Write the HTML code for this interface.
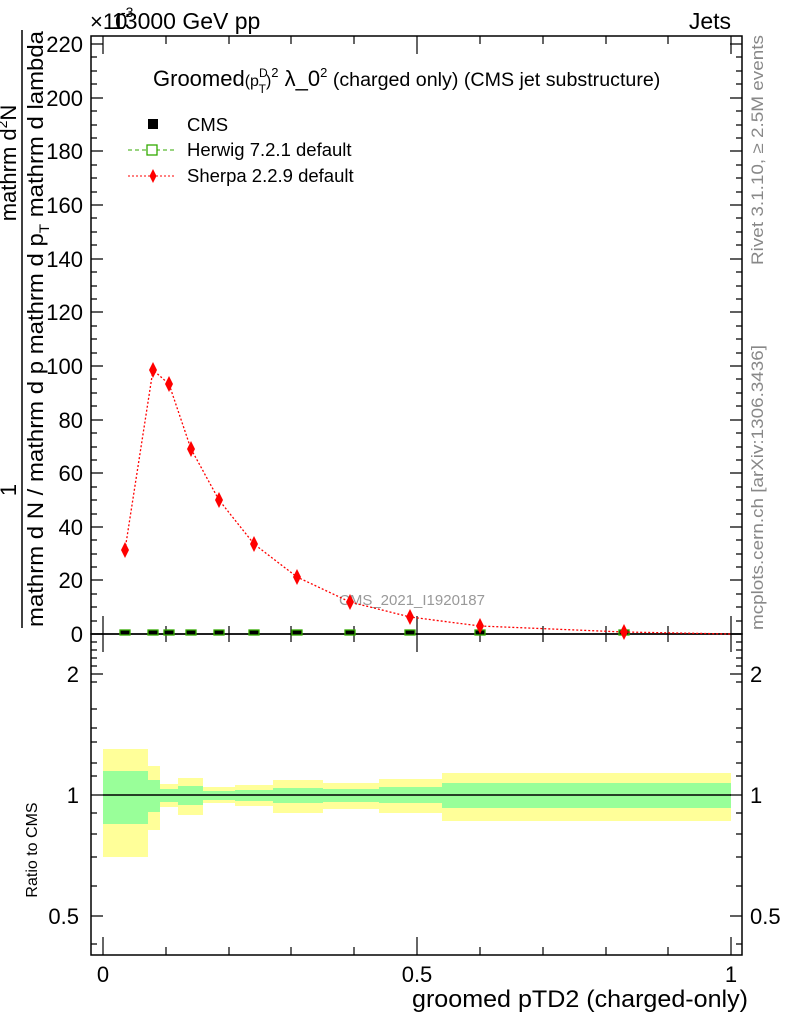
<!DOCTYPE html>
<html><head><meta charset="utf-8"><style>
html,body{margin:0;padding:0;background:#fff;}
svg{display:block;font-family:"Liberation Sans",sans-serif;}
</style></head><body>
<svg width="786" height="1024" viewBox="0 0 786 1024" xmlns="http://www.w3.org/2000/svg">
<g>
<rect x="103" y="749" width="45" height="108" fill="#ffff99"/>
<rect x="148" y="766" width="12" height="64" fill="#ffff99"/>
<rect x="160" y="784" width="18" height="23" fill="#ffff99"/>
<rect x="178" y="778" width="25" height="37" fill="#ffff99"/>
<rect x="203" y="787" width="32" height="16" fill="#ffff99"/>
<rect x="235" y="785" width="38" height="21" fill="#ffff99"/>
<rect x="273" y="780" width="50" height="33" fill="#ffff99"/>
<rect x="323" y="783" width="56" height="26" fill="#ffff99"/>
<rect x="379" y="779" width="63" height="34" fill="#ffff99"/>
<rect x="442" y="773" width="289" height="48" fill="#ffff99"/>
<rect x="103" y="771" width="45" height="53" fill="#99ff99"/>
<rect x="148" y="780" width="12" height="32" fill="#99ff99"/>
<rect x="160" y="789" width="18" height="13" fill="#99ff99"/>
<rect x="178" y="786" width="25" height="19" fill="#99ff99"/>
<rect x="203" y="791" width="32" height="9" fill="#99ff99"/>
<rect x="235" y="790" width="38" height="11" fill="#99ff99"/>
<rect x="273" y="788" width="50" height="15" fill="#99ff99"/>
<rect x="323" y="789" width="56" height="13" fill="#99ff99"/>
<rect x="379" y="787" width="63" height="16" fill="#99ff99"/>
<rect x="442" y="783" width="289" height="25" fill="#99ff99"/>
<line x1="103" y1="795" x2="731" y2="795" stroke="#000" stroke-width="1.5"/>
</g>
<rect x="91" y="36" width="651" height="598" fill="none" stroke="#000" stroke-width="1.5"/>
<rect x="91" y="634" width="651" height="321" fill="none" stroke="#000" stroke-width="1.5"/>
<g stroke="#000" stroke-width="1.2">
<path d="M91 634h12M91 580h12M91 527h12M91 473h12M91 420h12M91 366h12M91 312h12M91 259h12M91 205h12M91 151h12M91 98h12M91 44h12
M742 634h-12M742 580h-12M742 527h-12M742 473h-12M742 420h-12M742 366h-12M742 312h-12M742 259h-12M742 205h-12M742 151h-12M742 98h-12M742 44h-12"/>
<path d="M91 621h6M91 607h6M91 594h6M91 567h6M91 554h6M91 540h6M91 514h6M91 500h6M91 487h6M91 460h6M91 447h6M91 433h6M91 406h6M91 393h6M91 379h6M91 353h6M91 339h6M91 326h6M91 299h6M91 286h6M91 272h6M91 245h6M91 232h6M91 218h6M91 192h6M91 178h6M91 165h6M91 138h6M91 125h6M91 111h6M91 84h6M91 71h6M91 57h6
M742 621h-6M742 607h-6M742 594h-6M742 567h-6M742 554h-6M742 540h-6M742 514h-6M742 500h-6M742 487h-6M742 460h-6M742 447h-6M742 433h-6M742 406h-6M742 393h-6M742 379h-6M742 353h-6M742 339h-6M742 326h-6M742 299h-6M742 286h-6M742 272h-6M742 245h-6M742 232h-6M742 218h-6M742 192h-6M742 178h-6M742 165h-6M742 138h-6M742 125h-6M742 111h-6M742 84h-6M742 71h-6M742 57h-6"/>
<path d="M103 634v-18M417 634v-18M731 634v-18M103 36v18M417 36v18M731 36v18
M166 634v-8M229 634v-8M291 634v-8M354 634v-8M480 634v-8M543 634v-8M606 634v-8M668 634v-8
M166 36v8M229 36v8M291 36v8M354 36v8M480 36v8M543 36v8M606 36v8M668 36v8"/>
<path d="M103 955v-18M417 955v-18M731 955v-18M103 634v18M417 634v18M731 634v18
M166 955v-8M229 955v-8M291 955v-8M354 955v-8M480 955v-8M543 955v-8M606 955v-8M668 955v-8
M166 634v8M229 634v8M291 634v8M354 634v8M480 634v8M543 634v8M606 634v8M668 634v8"/>
<path d="M91 674h12M91 795h12M91 916h12M742 674h-12M742 795h-12M742 916h-12"/>
<path d="M91 642h6M91 650h6M91 658h6M91 666h6M91 682h6M91 709h6M91 728h6M91 742h6M91 763h6M91 776h6M91 813h6M91 834h6M91 857h6M91 886h6M91 944h6
M742 642h-6M742 650h-6M742 658h-6M742 666h-6M742 682h-6M742 709h-6M742 728h-6M742 742h-6M742 763h-6M742 776h-6M742 813h-6M742 834h-6M742 857h-6M742 886h-6M742 944h-6"/>
</g>
<g font-size="22" text-anchor="end" fill="#000">
<text x="83" y="642">0</text><text x="83" y="588">20</text><text x="83" y="535">40</text><text x="83" y="481">60</text><text x="83" y="428">80</text><text x="83" y="374">100</text><text x="83" y="320">120</text><text x="83" y="267">140</text><text x="83" y="213">160</text><text x="83" y="159">180</text><text x="83" y="106">200</text><text x="83" y="52">220</text>
<text x="79" y="682">2</text><text x="79" y="803">1</text><text x="79" y="924">0.5</text>
</g>
<g font-size="22" fill="#000">
<text x="750" y="682">2</text><text x="750" y="803">1</text><text x="750" y="924">0.5</text>
</g>
<g font-size="22" text-anchor="middle"><text x="103" y="982">0</text><text x="417" y="982">0.5</text><text x="731" y="982">1</text></g>
<text x="748" y="1007" font-size="24" text-anchor="end" textLength="336" lengthAdjust="spacingAndGlyphs">groomed pTD2 (charged-only)</text>
<text x="90" y="29" font-size="22">×10</text><text x="121" y="17" font-size="14">-3</text>
<text x="112" y="29" font-size="23">13000 GeV pp</text>
<text x="731" y="29" font-size="23" text-anchor="end">Jets</text>
<text font-size="16" transform="translate(37,850) rotate(-90)" text-anchor="middle">Ratio to CMS</text>
<text font-size="16.5" fill="#888" transform="translate(763,265) rotate(-90)" textLength="230" lengthAdjust="spacingAndGlyphs">Rivet 3.1.10, ≥ 2.5M events</text>
<text font-size="17" fill="#888" transform="translate(763,630) rotate(-90)" textLength="285" lengthAdjust="spacingAndGlyphs">mcplots.cern.ch [arXiv:1306.3436]</text>
<text x="339" y="605" font-size="15" fill="#999">CMS_2021_I1920187</text>
<line x1="22" y1="30" x2="22" y2="628" stroke="#000" stroke-width="1.5"/>
<text font-size="22" text-anchor="middle" transform="translate(16,163) rotate(-90)">mathrm d<tspan font-size="14" dy="-9">2</tspan><tspan dy="9">N</tspan></text>
<text font-size="22" text-anchor="middle" transform="translate(16,490) rotate(-90)">1</text>
<text font-size="22" text-anchor="middle" transform="translate(43,329) rotate(-90)" textLength="596" lengthAdjust="spacingAndGlyphs">mathrm d N / mathrm d p mathrm d p<tspan font-size="14" dy="6">T</tspan><tspan dy="-6"> mathrm d lambda</tspan></text>
<text x="153" y="86" font-size="22">Groomed<tspan font-size="16">(p</tspan><tspan font-size="12" dy="-9">D</tspan><tspan font-size="12" dx="-9" dy="16">T</tspan><tspan font-size="16" dy="-7">)</tspan><tspan font-size="13" dy="-9">2</tspan><tspan dy="9"> λ_0</tspan><tspan font-size="13" dy="-9">2</tspan><tspan dy="9" font-size="19" textLength="333" lengthAdjust="spacingAndGlyphs">  (charged only) (CMS jet substructure)</tspan></text>
<rect x="148" y="119" width="10" height="10" fill="#000"/>
<text x="187" y="131" font-size="18.5">CMS</text>
<line x1="128" y1="150" x2="175" y2="150" stroke="#33aa00" stroke-dasharray="4,3"/>
<rect x="147" y="145" width="10" height="10" fill="#fff" stroke="#33aa00" stroke-width="1.3"/>
<text x="187" y="156" font-size="18.5">Herwig 7.2.1 default</text>
<line x1="128" y1="176" x2="175" y2="176" stroke="#f00" stroke-dasharray="2,2"/>
<path d="M153 169l3.5 7-3.5 7-3.5-7z" fill="#f00"/>
<text x="187" y="182" font-size="18.5">Sherpa 2.2.9 default</text>
<g fill="#000" stroke="#33aa00" stroke-width="1.3">
<rect x="120" y="630" width="10" height="5"/><rect x="148" y="630" width="10" height="5"/><rect x="164" y="630" width="10" height="5"/><rect x="186" y="630" width="10" height="5"/><rect x="214" y="630" width="10" height="5"/><rect x="249" y="630" width="10" height="5"/><rect x="292" y="630" width="10" height="5"/><rect x="345" y="630" width="10" height="5"/><rect x="405" y="630" width="10" height="5"/><rect x="475" y="630" width="10" height="5"/><rect x="619" y="630" width="10" height="5"/>
</g>
<polyline fill="none" stroke="#f00" stroke-width="1.3" stroke-dasharray="2,2" points="125,550 153,370 169,384 191,449 219,500 254,544 297,577 350,602 410,617 480,626 624,632 731,634"/>
<g fill="#f00">
<path d="M125 542l4 8-4 8-4-8z"/><path d="M153 362l4 8-4 8-4-8z"/><path d="M169 376l4 8-4 8-4-8z"/><path d="M191 441l4 8-4 8-4-8z"/><path d="M219 492l4 8-4 8-4-8z"/><path d="M254 536l4 8-4 8-4-8z"/><path d="M297 569l4 8-4 8-4-8z"/><path d="M350 594l4 8-4 8-4-8z"/><path d="M410 609l4 8-4 8-4-8z"/><path d="M480 618l4 8-4 8-4-8z"/><path d="M624 624l4 8-4 8-4-8z"/>
</g>
</svg>
</body></html>
